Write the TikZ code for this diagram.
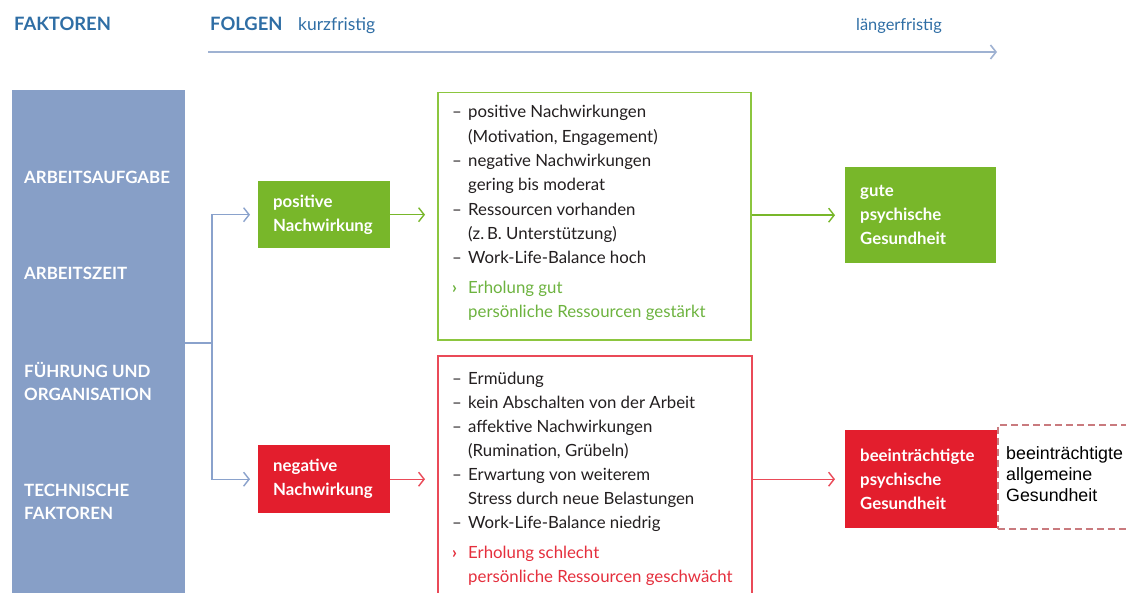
\documentclass[tikz,border=0pt]{standalone}
\usepackage{fontspec}
\setmainfont{Lato}
\newfontfamily\arialfont{Liberation Sans}
\usetikzlibrary{arrows.meta}
\definecolor{faktor}{HTML}{879FC7}
\definecolor{titleblue}{HTML}{2F6EA5}
\definecolor{axisblue}{HTML}{9FB2D2}
\definecolor{conblue}{HTML}{8AA2CC}
\definecolor{posgreen}{HTML}{78B72A}
\definecolor{posline}{HTML}{8CC63F}
\definecolor{negred}{HTML}{E31E2D}
\definecolor{negline}{HTML}{EA4A58}
\definecolor{dashred}{HTML}{C97A7E}
\definecolor{listtext}{HTML}{231F20}
\definecolor{greentext}{HTML}{6DB33F}
\definecolor{redtext}{HTML}{E52F3D}
\newcommand\lidash{\makebox[16pt][l]{–}}
\newcommand\licont{\hspace*{16pt}}
\newcommand\liarrow{\makebox[16pt][l]{\bfseries ›}}
\tikzset{
 titletext/.style={anchor=base west, inner sep=0, text=titleblue},
 faklabel/.style={anchor=west, inner sep=0, text=white, align=left, font=\bfseries\fontsize{16.9}{23}\selectfont},
 colbox/.style={anchor=north west, inner xsep=15pt, inner ysep=0, text=white, align=left, font=\bfseries\fontsize{16.8}{24}\selectfont},
 outbox/.style={anchor=north west, inner sep=0, line width=1.5pt, fill=white},
 listnode/.style={anchor=base west, inner sep=0, text=listtext, font=\fontsize{16.8}{24.3}\selectfont},
 conn/.style={line width=1.4pt, -{Straight Barb[length=5.5pt,width=14pt]}},
}
\begin{document}
\begin{tikzpicture}[x=1pt,y=-1pt]
\clip (0,0) rectangle (1126,593);
\fill[white] (0,0) rectangle (1126,593);

% titles
\node[titletext, font=\bfseries\fontsize{18.4}{20}\selectfont] (tfak) at (14,31) {FAKTOREN};
\node[titletext, font=\bfseries\fontsize{18.4}{20}\selectfont] (tfol) at (210,31) {FOLGEN};
\node[titletext, font=\fontsize{17.5}{20}\selectfont] (tkurz) at (298,31) {kurzfristig};
\node[titletext, font=\fontsize{16.4}{20}\selectfont] (tlang) at (856,31) {längerfristig};
\coordinate (axl) at (208,52);
\coordinate (axr) at (997,52);
\draw[conn, axisblue, line width=1.6pt] (axl) -- (axr);

% factors
\node[fill=faktor, anchor=north west, minimum width=173pt, minimum height=520pt, inner sep=0] (fak) at (12,90) {};
\node[faklabel] (l1) at (24,177) {ARBEITSAUFGABE};
\node[faklabel] (l2) at (24,273) {ARBEITSZEIT};
\node[faklabel] (l3) at (24,381.5) {FÜHRUNG UND\\ORGANISATION};
\node[faklabel] (l4) at (24,502) {TECHNISCHE\\FAKTOREN};

% short-term boxes
\node[colbox, fill=posgreen, minimum width=132pt, minimum height=67pt, text width=102pt] (pos) at (258,181) {positive\\Nachwirkung};
\node[colbox, fill=negred, minimum width=132pt, minimum height=68pt, text width=102pt] (neg) at (258,445) {negative\\Nachwirkung};

\coordinate (split) at (212,343);
\draw[conblue, line width=1.4pt] (fak.east |- split) -- (split);
\draw[conn, conblue, shorten >=8pt] (split) |- (pos.west);
\draw[conn, conblue, shorten >=8pt] (split) |- (neg.west);

% outline boxes
\node[outbox, draw=posline, minimum width=313pt, minimum height=247pt] (posout) at (437,92) {};
\node[outbox, draw=negline, minimum width=314pt, minimum height=260pt] (negout) at (437,355) {};

\node[listnode] (postext) at (452,118) {\begin{tabular}[t]{@{}l@{}}
\lidash positive Nachwirkungen\\
\licont (Motivation, Engagement)\\
\lidash negative Nachwirkungen\\
\licont gering bis moderat\\
\lidash Ressourcen vorhanden\\
\licont (z.\,B. Unterstützung)\\
\lidash Work-Life-Balance hoch\\[5pt]
{\color{greentext}\liarrow Erholung gut}\\
{\color{greentext}\licont persönliche Ressourcen gestärkt}
\end{tabular}};

\node[listnode, font=\fontsize{16.8}{24.1}\selectfont] (negtext) at (452,384) {\begin{tabular}[t]{@{}l@{}}
\lidash Ermüdung\\
\lidash kein Abschalten von der Arbeit\\
\lidash affektive Nachwirkungen\\
\licont (Rumination, Grübeln)\\
\lidash Erwartung von weiterem\\
\licont Stress durch neue Belastungen\\
\lidash Work-Life-Balance niedrig\\[6pt]
{\color{redtext}\liarrow Erholung schlecht}\\
{\color{redtext}\licont persönliche Ressourcen geschwächt}
\end{tabular}};

\draw[conn, posgreen, shorten >=12pt] (pos.east) -- (pos.east -| posout.west);
\draw[conn, negline, shorten >=12pt] (neg.east) -- (neg.east -| negout.west);

% long-term boxes
\node[colbox, fill=posgreen, minimum width=151pt, minimum height=96pt, text width=121pt] (gute) at (845,167) {gute\\psychische\\Gesundheit};
\node[colbox, fill=negred, minimum width=152pt, minimum height=98pt, text width=122pt] (bad) at (845,430) {beeinträchtigte\\psychische\\Gesundheit};

\draw[conn, posgreen, shorten >=10pt] (gute.west -| posout.east) -- (gute.west);
\draw[conn, negline, shorten >=10pt] (bad.west -| negout.east) -- (bad.west);

\node[anchor=north west, inner sep=0, draw=dashred, line width=1.5pt, dash pattern=on 7pt off 4pt, minimum width=200pt, minimum height=104pt] (badgen) at (997,424) {};
\node[anchor=base west, inner sep=0, font=\arialfont\fontsize{17.8}{21}\selectfont] (badgentext) at (1006,459) {\begin{tabular}[t]{@{}l@{}}beeinträchtigte\\allgemeine\\Gesundheit\end{tabular}};
\end{tikzpicture}
\end{document}
